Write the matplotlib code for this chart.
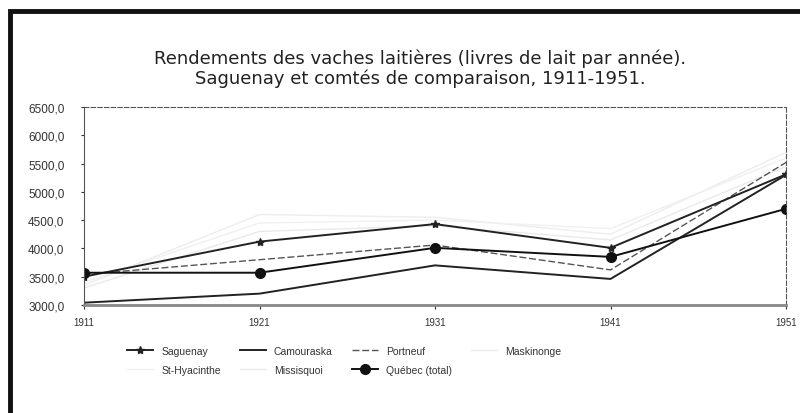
import matplotlib
matplotlib.use("Agg")
import matplotlib.pyplot as plt
from matplotlib.patches import Rectangle
from matplotlib.ticker import FuncFormatter

years = ["1911", "1921", "1931", "1941", "1951"]
saguenay = [3500, 4120, 4430, 4010, 5310]
camouraska = [3040, 3200, 3700, 3460, 5300]
portneuf = [3540, 3800, 4060, 3620, 5520]
maskinonge = [3350, 4600, 4550, 4250, 5700]
st_hyacinthe = [3400, 4450, 4500, 4350, 5600]
missisquoi = [3300, 4300, 4400, 4150, 5450]
quebec = [3570, 3570, 4010, 3850, 4700]
yticks = [3000, 3500, 4000, 4500, 5000, 5500, 6000, 6500]

plt.rcParams['font.family'] = ['Liberation Sans', 'DejaVu Sans']

fig = plt.figure(figsize=(8.0, 4.14), dpi=100)
# scanned frame
fig.patches.append(Rectangle((0.012, -0.05), 1.2, 1.02, transform=fig.transFigure,
                             fill=False, edgecolor='#111111', linewidth=3.5, zorder=0))

ax = fig.add_axes([0.105, 0.261, 0.8775, 0.478])
x = list(range(len(years)))

ax.plot(x, maskinonge, color='#ededed', lw=1.0, label='Maskinonge')
ax.plot(x, st_hyacinthe, color='#f0f0f0', lw=1.0, label='St-Hyacinthe')
ax.plot(x, missisquoi, color='#eaeaea', lw=1.0, label='Missisquoi')
ax.plot(x, portneuf, color='#555555', lw=1.0, ls=(0, (5, 2)), label='Portneuf')
ax.plot(x, camouraska, color='#222222', lw=1.4, label='Camouraska')
ax.plot(x, saguenay, color='#222222', lw=1.4, marker='*', ms=6, label='Saguenay')
ax.plot(x, quebec, color='#111111', lw=1.4, marker='o', ms=7, label='Québec (total)')

ax.set_xlim(0, 4)
ax.set_ylim(3000, 6500)
ax.set_xticks(x)
ax.set_xticklabels(years, fontsize=7, color='#333333')
ax.set_yticks(yticks)
ax.yaxis.set_major_formatter(FuncFormatter(lambda v, p: f"{v:.1f}".replace('.', ',')))
ax.tick_params(axis='y', labelsize=8.5, colors='#333333', length=2, pad=12)
ax.tick_params(axis='x', length=3, colors='#333333', pad=6)
for lab in ax.get_yticklabels() + ax.get_xticklabels():
    lab.set_color('#333333')

ax.spines['top'].set_linestyle((0, (4, 2)))
ax.spines['top'].set_color('#555555')
ax.spines['top'].set_linewidth(0.8)
ax.spines['right'].set_linestyle((0, (4, 2)))
ax.spines['right'].set_color('#555555')
ax.spines['right'].set_linewidth(0.8)
ax.spines['left'].set_color('#555555')
ax.spines['left'].set_linewidth(0.8)
ax.spines['bottom'].set_color('#888888')
ax.spines['bottom'].set_linewidth(2.0)

fig.text(0.525, 0.858, "Rendements des vaches laitières (livres de lait par année).",
         ha='center', va='center', fontsize=13, color='#222222', family='DejaVu Sans')
fig.text(0.525, 0.81, "Saguenay et comtés de comparaison, 1911-1951.",
         ha='center', va='center', fontsize=13, color='#222222', family='DejaVu Sans')

handles, labels = ax.get_legend_handles_labels()
order = ['Saguenay', 'Camouraska', 'Portneuf', 'Maskinonge', 'St-Hyacinthe', 'Missisquoi', 'Québec (total)']
hmap = dict(zip(labels, handles))
cols = 4
rows = [order[:4], order[4:] + ['']]
col_order = []
for c in range(cols):
    for r in rows:
        if r[c]:
            col_order.append(r[c])
leg = fig.legend([hmap[k] for k in col_order], col_order, loc='center',
                 bbox_to_anchor=(0.43, 0.127), ncol=4, frameon=False, fontsize=7.5,
                 handlelength=2.5, columnspacing=1.8, labelspacing=0.9)
for t in leg.get_texts():
    t.set_color('#333333')

fig.savefig("out.png", dpi=100)
